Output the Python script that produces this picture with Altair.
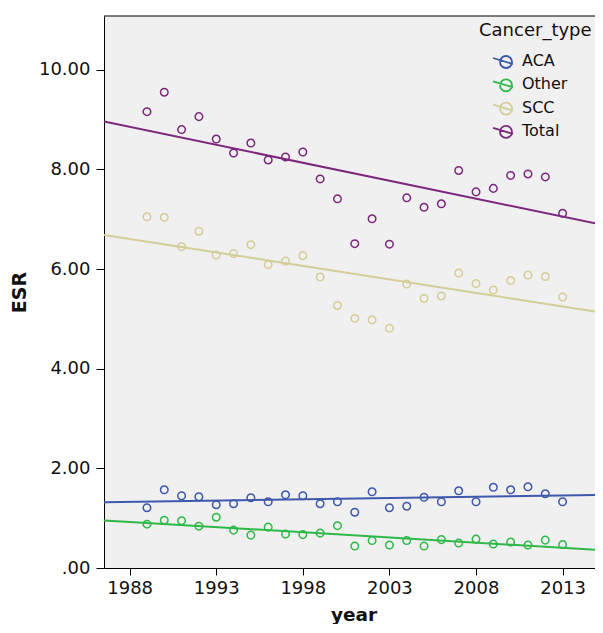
import altair as alt
import pandas as pd

years = list(range(1989, 2014))
aca = [1.21, 1.57, 1.45, 1.43, 1.27, 1.29, 1.41, 1.33, 1.47, 1.45, 1.29, 1.33, 1.12,
       1.53, 1.21, 1.24, 1.42, 1.33, 1.55, 1.33, 1.62, 1.57, 1.63, 1.49, 1.33]
other = [0.88, 0.96, 0.95, 0.84, 1.02, 0.76, 0.66, 0.82, 0.68, 0.67, 0.70, 0.85, 0.44,
         0.55, 0.46, 0.55, 0.44, 0.57, 0.50, 0.58, 0.48, 0.52, 0.46, 0.56, 0.47]
scc = [7.05, 7.04, 6.45, 6.76, 6.28, 6.31, 6.49, 6.09, 6.16, 6.27, 5.84, 5.27, 5.01,
       4.98, 4.81, 5.70, 5.41, 5.46, 5.92, 5.71, 5.58, 5.77, 5.88, 5.85, 5.44]
total = [9.16, 9.55, 8.80, 9.06, 8.61, 8.33, 8.53, 8.19, 8.25, 8.35, 7.81, 7.41, 6.51,
         7.01, 6.50, 7.43, 7.24, 7.31, 7.98, 7.55, 7.62, 7.88, 7.91, 7.85, 7.12]

types = ["ACA", "Other", "SCC", "Total"]
colors = ["#3E58AC", "#2EB848", "#D3CE97", "#7C287D"]
x_ticks = [1988, 1993, 1998, 2003, 2008, 2013]
y_ticks = [0, 2, 4, 6, 8, 10]

rows = []
for name, vals in zip(types, [aca, other, scc, total]):
    for yr, v in zip(years, vals):
        rows.append({"year": yr, "ESR": v, "Cancer_type": name})
df = pd.DataFrame(rows)

W, H = 491, 552
x_dom = [1986.52, 2014.87]
y_dom = [0, 11.08]
FONT = "DejaVu Sans"

legend_symbol = ("M-1,-0.3L1,0.3"
                 "M0.9,0.1A0.6,0.6 0 1,1 -0.3,0.1A0.6,0.6 0 1,1 0.9,0.1")

color = alt.Color(
    "Cancer_type:N",
    scale=alt.Scale(domain=types, range=colors),
    legend=alt.Legend(
        title="Cancer_type", orient="none", legendX=375, legendY=6,
        titleFont=FONT, titleFontSize=18, titleFontWeight="normal", titleColor="#111",
        titlePadding=10, labelFont=FONT, labelFontSize=16, labelColor="#111",
        symbolType=legend_symbol, symbolSize=400, symbolStrokeWidth=1.8,
        symbolFillColor="transparent", symbolOffset=13, labelOffset=8,
        rowPadding=1.3, padding=0,
    ),
)

x = alt.X("year:Q", scale=alt.Scale(domain=x_dom, nice=False, zero=False),
          axis=alt.Axis(values=x_ticks, format="d", title="year", grid=False,
                        labelFont=FONT, labelFontSize=18, labelColor="#111",
                        tickSize=7, labelPadding=4, tickColor="#000", domainColor="#000",
                        titleFont=FONT, titleFontSize=18.5, titleFontWeight="bold",
                        titleColor="#111", titleBaseline="alphabetic", titleY=52,
                        titleX=249.5))
y = alt.Y("ESR:Q", scale=alt.Scale(domain=y_dom, nice=False, zero=False),
          axis=alt.Axis(values=y_ticks, title="ESR", grid=False,
                        labelExpr="datum.value == 0 ? '.00' : format(datum.value, '.2f')",
                        labelFont=FONT, labelFontSize=18, labelColor="#111",
                        tickSize=8, labelPadding=6, tickColor="#000", domainColor="#000",
                        titleFont=FONT, titleFontSize=19, titleFontWeight="bold",
                        titleColor="#111", titlePadding=9))

points = alt.Chart(df).mark_point(filled=False, size=57, strokeWidth=1.5, opacity=1).encode(
    x=x, y=y, color=color)

lines = alt.Chart(df).transform_regression(
    "year", "ESR", groupby=["Cancer_type"], extent=x_dom
).mark_line(strokeWidth=2, clip=True).encode(x=x, y=y, color=color)

top_border = alt.Chart(pd.DataFrame({"k": [0]})).mark_rule(color="#000", strokeWidth=1).encode(
    x=alt.value(0), x2=alt.value(W), y=alt.value(0))

chart = alt.layer(points, lines, top_border).properties(
    width=W, height=H,
    autosize=alt.AutoSizeParams(type="none"),
    padding={"left": 96, "top": 8, "right": 0, "bottom": 56},
    background="white",
).configure_view(fill="#F0F0F0", stroke=None)

chart.save("out.html", embed_options={"renderer": "svg", "actions": False})
